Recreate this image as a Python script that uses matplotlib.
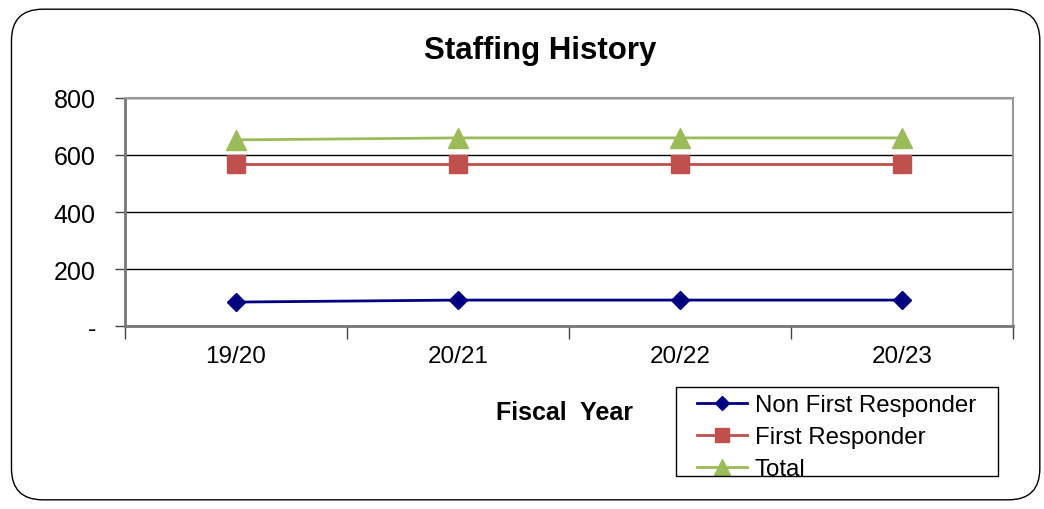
import matplotlib.pyplot as plt
from matplotlib.patches import FancyBboxPatch, Rectangle
from matplotlib.ticker import FixedLocator

plt.rcParams['font.family'] = ['Liberation Sans', 'DejaVu Sans']

years = ['19/20', '20/21', '20/22', '20/23']
non_first = [84, 91, 91, 91]
first = [568, 568, 568, 568]
total = [653, 660, 660, 660]

fig = plt.figure(figsize=(10.44, 5.10), dpi=100)

# rounded outer border
border = FancyBboxPatch((0.011, 0.018), 0.985, 0.962,
                        boxstyle='round,pad=0,rounding_size=0.03',
                        transform=fig.transFigure, fill=False,
                        edgecolor='black', linewidth=1.0, mutation_aspect=2.05)
fig.patches.append(border)

ax = fig.add_axes([0.1197, 0.3588, 0.8506, 0.4471])
x = range(len(years))
ax.plot(x, non_first, color='#000080', marker='D', markersize=9, linewidth=2,
        label='Non First Responder')
ax.plot(x, first, color='#C0504D', marker='s', markersize=13, linewidth=2,
        label='First Responder')
ax.plot(x, total, color='#9BBB59', marker='^', markersize=15, linewidth=2,
        label='Total')

ax.set_xlim(-0.5, 3.5)
ax.set_ylim(0, 800)
ax.set_yticks([0, 200, 400, 600, 800])
ax.set_yticklabels(['-', '200', '400', '600', '800'], fontsize=18)
ax.yaxis.grid(True, color='black', linewidth=1)
ax.set_axisbelow(True)

ax.set_xticks(list(x))
ax.set_xticklabels(years, fontsize=17.5)
ax.tick_params(axis='x', length=0, pad=14)
ax.xaxis.set_minor_locator(FixedLocator([-0.5, 0.5, 1.5, 2.5, 3.5]))
ax.tick_params(axis='x', which='minor', length=9, width=1, color='#444444')
ax.tick_params(axis='y', length=7, width=1, color='#444444', pad=14)

for s in ['top', 'right']:
    ax.spines[s].set_color('#999999')
    ax.spines[s].set_linewidth(1.5)
for s in ['left', 'bottom']:
    ax.spines[s].set_color('#777777')
    ax.spines[s].set_linewidth(2)

fig.text(0.517, 0.90, 'Staffing History', ha='center', va='center',
         fontsize=22.5, fontweight='bold')
fig.text(0.541, 0.19, 'Fiscal  Year', ha='center', va='center',
         fontsize=18, fontweight='bold')

# legend box drawn separately so the padding matches
fig.patches.append(Rectangle((0.6475, 0.0647), 0.3084, 0.1745,
                             transform=fig.transFigure, fill=False,
                             edgecolor='black', linewidth=1))
ax.legend(loc='upper left', bbox_to_anchor=(0.6676, 0.225),
          bbox_transform=fig.transFigure, fontsize=17.3, frameon=False,
          handlelength=2.1, borderpad=0, labelspacing=0.41,
          handletextpad=0.3, borderaxespad=0, markerscale=0.75)

fig.savefig('out.png', dpi=100)
